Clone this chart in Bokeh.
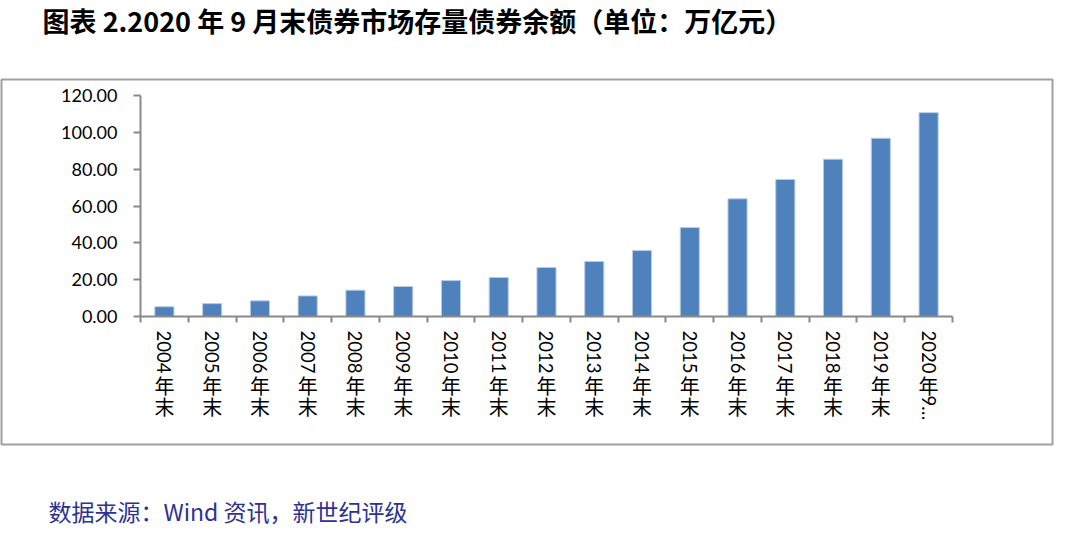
from bokeh.plotting import figure
from bokeh.models import Range1d, LinearAxis, FixedTicker, Title
from bokeh.embed import file_html
from bokeh.resources import INLINE

title_text = "图表 2.2020 年 9 月末债券市场存量债券余额（单位：万亿元）"
footer_text = "数据来源：Wind 资讯，新世纪评级"

categories = ["2004年末", "2005年末", "2006年末", "2007年末", "2008年末", "2009年末",
              "2010年末", "2011年末", "2012年末", "2013年末", "2014年末", "2015年末",
              "2016年末", "2017年末", "2018年末", "2019年末", "2020年9…"]
values = [5.3, 7.0, 8.5, 11.2, 14.3, 16.3, 19.5, 21.2, 26.6, 29.9, 35.8, 48.3,
          63.9, 74.4, 85.4, 96.8, 110.7]
y_ticks = [0, 20, 40, 60, 80, 100, 120]
y_tick_labels = ["0.00", "20.00", "40.00", "60.00", "80.00", "100.00", "120.00"]

n = len(categories)
xs = list(range(n))

# frame == outer chart box; axes drawn inside it at fixed locations
p = figure(width=1064, height=543,
           x_range=Range1d(-3.410, 18.594), y_range=Range1d(-69.5, 128.69),
           output_backend="svg", toolbar_location=None,
           x_axis_location=None, y_axis_location=None,
           min_border_left=1, min_border_right=12, min_border_top=79, min_border_bottom=99)
p.outline_line_color = "#A0A0A0"
p.outline_line_width = 2
p.xgrid.visible = False
p.ygrid.visible = False
p.background_fill_color = "white"
p.border_fill_color = "white"

p.vbar(x=xs, top=values, width=0.4, bottom=0, fill_color="#4F81BD", line_color="#B9CDE5", line_width=1)

AX = "#898989"
yax = LinearAxis(ticker=FixedTicker(ticks=y_ticks), fixed_location=-0.5, bounds=(0, 120),
                 major_label_overrides={t: l for t, l in zip(y_ticks, y_tick_labels)})
yax.axis_line_color = AX
yax.axis_line_width = 2
yax.major_tick_line_color = AX
yax.major_tick_line_width = 2
yax.major_tick_in = 0
yax.major_tick_out = 7
yax.minor_tick_line_color = None
yax.major_label_standoff = 16
yax.major_label_text_font = "Lato"
yax.major_label_text_font_size = "18px"
yax.major_label_text_color = "black"
p.add_layout(yax, "left")

bounds_x = [i - 0.5 for i in range(n + 1)]
xa = LinearAxis(ticker=FixedTicker(ticks=bounds_x), fixed_location=0, bounds=(-0.5, n - 0.5),
                major_label_overrides={b: "" for b in bounds_x})
xa.axis_line_color = AX
xa.axis_line_width = 2
xa.major_tick_line_color = AX
xa.major_tick_line_width = 2
xa.major_tick_in = 0
xa.major_tick_out = 6
xa.minor_tick_line_color = None
xa.major_label_text_font_size = "1px"
p.add_layout(xa, "below")

# category labels: digits rotated, CJK upright (vertical writing as in the source)
years = [c.split("年")[0] for c in categories]
tails = [c.split("年")[1] for c in categories]
cjk = ["\n".join("年" + t) if t == "末" else "年" for t in tails]
rot_tail = {i: t for i, t in enumerate(tails) if t != "末"}


def label_axis(ticks, labels, standoff, font, size, rotate=False, line_height=None):
    ax = LinearAxis(ticker=FixedTicker(ticks=ticks), fixed_location=0,
                    major_label_overrides=labels)
    ax.axis_line_color = None
    ax.major_tick_line_color = None
    ax.major_tick_out = 0
    ax.major_tick_in = 0
    ax.minor_tick_line_color = None
    if rotate:
        ax.major_label_orientation = -1.5707963267948966
    ax.major_label_standoff = standoff
    ax.major_label_text_font = font
    ax.major_label_text_font_size = size
    if line_height is not None:
        ax.major_label_text_line_height = line_height
    ax.major_label_text_color = "black"
    p.add_layout(ax, "below")


label_axis(xs, {i: y for i, y in zip(xs, years)}, 14, "Lato", "18.5px", rotate=True)
label_axis(xs, {i: c for i, c in zip(xs, cjk)}, 54, "Noto Sans CJK SC", "20px", line_height=0.725)
label_axis(list(rot_tail.keys()), rot_tail, 79, "Lato", "18.5px", rotate=True)

# title above the box (an empty second line pushes it to the top edge),
# source note below the box (an empty first line pushes it down)
p.add_layout(Title(text=title_text + "\n", align="left", offset=41, standoff=0,
                   vertical_align="top", text_line_height=0.97,
                   text_font="Noto Sans CJK SC", text_font_size="27px",
                   text_font_style="bold", text_color="black"), "above")
p.add_layout(Title(text="\n" + footer_text, align="left", offset=47, standoff=0,
                   vertical_align="top", text_line_height=1.45,
                   text_font="Noto Sans CJK SC", text_font_size="23px",
                   text_font_style="normal", text_color="#2E3192"), "below")

open("out.html", "w").write(file_html(p, INLINE))
